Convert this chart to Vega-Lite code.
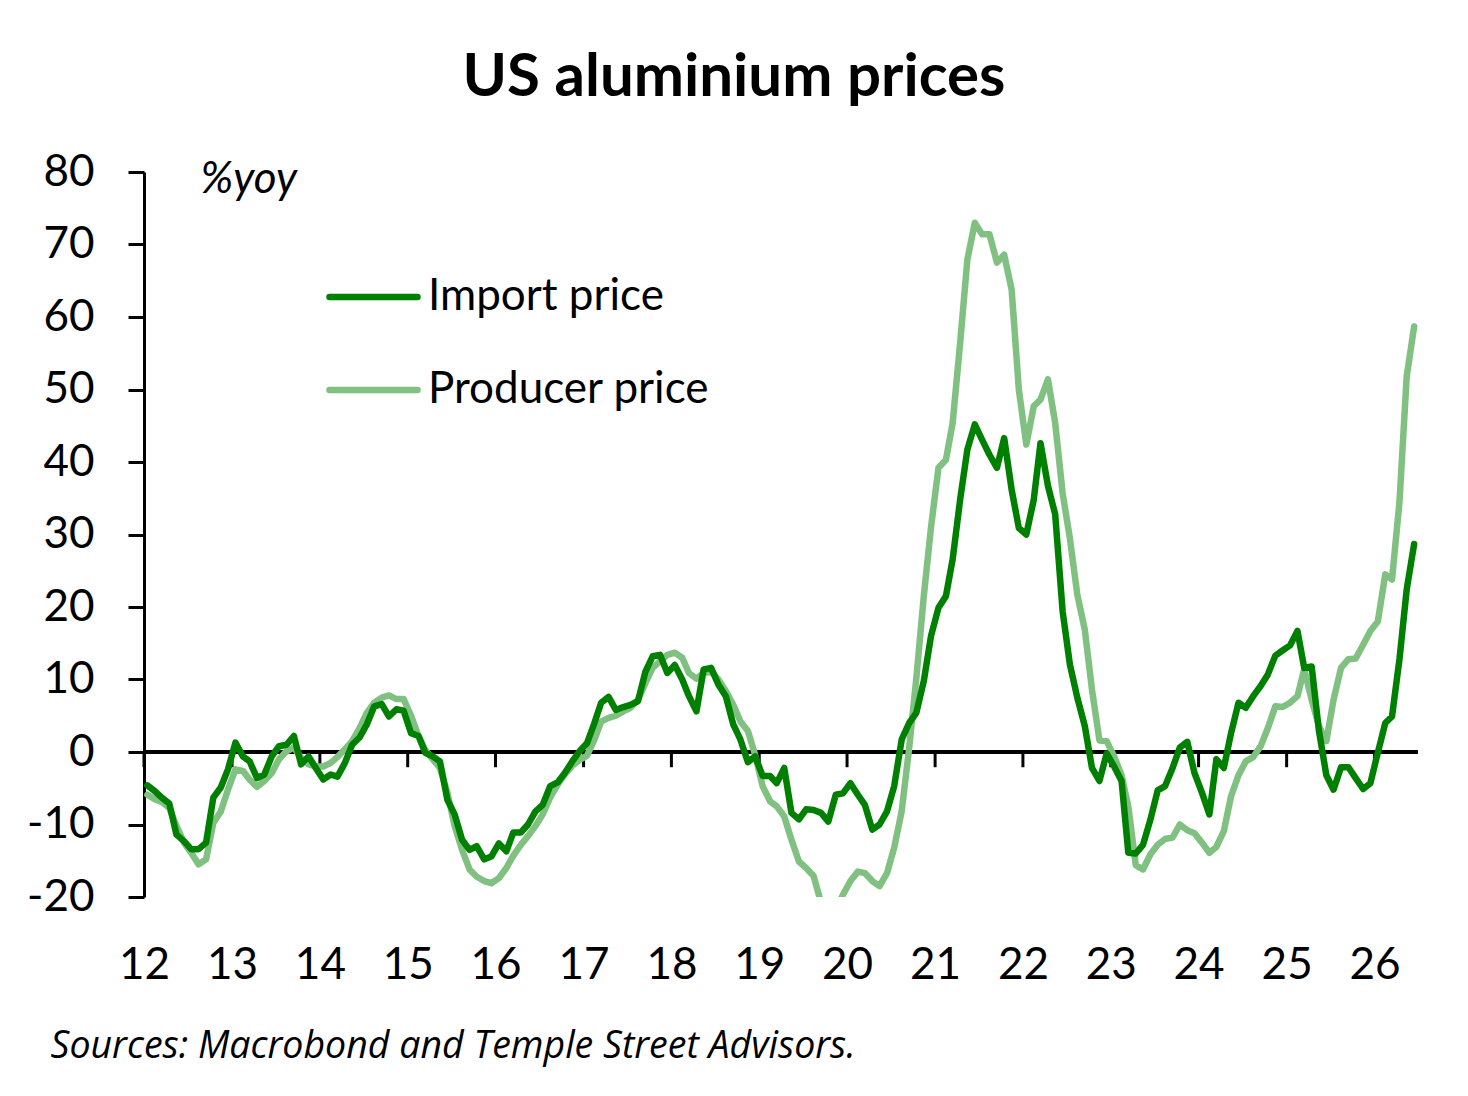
{
  "$schema": "https://vega.github.io/schema/vega-lite/v6.json",
  "width": 1274,
  "height": 725,
  "autosize": {"type": "none"},
  "padding": {"left": 144, "top": 172, "right": 50, "bottom": 199},
  "background": "white",
  "config": {"view": {"stroke": null}},
  "title": {
    "text": "US aluminium prices",
    "font": "Lato",
    "fontSize": 60,
    "fontWeight": "bold",
    "color": "black",
    "anchor": "middle",
    "baseline": "alphabetic",
    "dx": -47,
    "dy": 61,
    "offset": 55
  },
  "data": {
    "format": {"parse": {"date": "date"}},
    "values": [
      {"date": "2012-01-15", "imp": -4.6, "prod": -5.9},
      {"date": "2012-02-15", "imp": -5.4, "prod": -6.5},
      {"date": "2012-03-15", "imp": -6.3, "prod": -6.9},
      {"date": "2012-04-15", "imp": -7.1, "prod": -7.7},
      {"date": "2012-05-15", "imp": -11.4, "prod": -10.2},
      {"date": "2012-06-15", "imp": -12.3, "prod": -12.5},
      {"date": "2012-07-15", "imp": -13.4, "prod": -13.9},
      {"date": "2012-08-15", "imp": -13.4, "prod": -15.5},
      {"date": "2012-09-15", "imp": -12.5, "prod": -14.8},
      {"date": "2012-10-15", "imp": -6.3, "prod": -9.8},
      {"date": "2012-11-15", "imp": -4.9, "prod": -8.2},
      {"date": "2012-12-15", "imp": -2.4, "prod": -5.2},
      {"date": "2013-01-15", "imp": 1.3, "prod": -2.4},
      {"date": "2013-02-15", "imp": -0.6, "prod": -2.6},
      {"date": "2013-03-15", "imp": -1.3, "prod": -3.8},
      {"date": "2013-04-15", "imp": -3.6, "prod": -4.8},
      {"date": "2013-05-15", "imp": -3.1, "prod": -4.0},
      {"date": "2013-06-15", "imp": -0.6, "prod": -2.9},
      {"date": "2013-07-15", "imp": 0.8, "prod": -1.0},
      {"date": "2013-08-15", "imp": 1.0, "prod": 0.1},
      {"date": "2013-09-15", "imp": 2.2, "prod": 0.6},
      {"date": "2013-10-15", "imp": -1.7, "prod": -0.8},
      {"date": "2013-11-15", "imp": -0.6, "prod": -1.7},
      {"date": "2013-12-15", "imp": -2.2, "prod": -2.0},
      {"date": "2014-01-15", "imp": -3.8, "prod": -2.0},
      {"date": "2014-02-15", "imp": -3.1, "prod": -1.5},
      {"date": "2014-03-15", "imp": -3.4, "prod": -0.7},
      {"date": "2014-04-15", "imp": -1.5, "prod": 0.4},
      {"date": "2014-05-15", "imp": 1.0, "prod": 1.5},
      {"date": "2014-06-15", "imp": 2.0, "prod": 3.3},
      {"date": "2014-07-15", "imp": 3.8, "prod": 5.4},
      {"date": "2014-08-15", "imp": 6.3, "prod": 6.8},
      {"date": "2014-09-15", "imp": 6.6, "prod": 7.5},
      {"date": "2014-10-15", "imp": 4.9, "prod": 7.8},
      {"date": "2014-11-15", "imp": 5.9, "prod": 7.3},
      {"date": "2014-12-15", "imp": 5.7, "prod": 7.3},
      {"date": "2015-01-15", "imp": 2.6, "prod": 5.0},
      {"date": "2015-02-15", "imp": 2.2, "prod": 2.2},
      {"date": "2015-03-15", "imp": -0.1, "prod": 0.3},
      {"date": "2015-04-15", "imp": -0.6, "prod": -1.0},
      {"date": "2015-05-15", "imp": -1.3, "prod": -2.2},
      {"date": "2015-06-15", "imp": -6.6, "prod": -5.6},
      {"date": "2015-07-15", "imp": -8.6, "prod": -10.2},
      {"date": "2015-08-15", "imp": -12.1, "prod": -13.5},
      {"date": "2015-09-15", "imp": -13.5, "prod": -16.2},
      {"date": "2015-10-15", "imp": -13.0, "prod": -17.2},
      {"date": "2015-11-15", "imp": -14.8, "prod": -17.8},
      {"date": "2015-12-15", "imp": -14.4, "prod": -18.1},
      {"date": "2016-01-15", "imp": -12.6, "prod": -17.4},
      {"date": "2016-02-15", "imp": -13.7, "prod": -16.0},
      {"date": "2016-03-15", "imp": -11.1, "prod": -14.3},
      {"date": "2016-04-15", "imp": -11.1, "prod": -12.8},
      {"date": "2016-05-15", "imp": -10.0, "prod": -11.6},
      {"date": "2016-06-15", "imp": -8.2, "prod": -10.2},
      {"date": "2016-07-15", "imp": -7.3, "prod": -8.6},
      {"date": "2016-08-15", "imp": -4.7, "prod": -6.3},
      {"date": "2016-09-15", "imp": -4.2, "prod": -4.5},
      {"date": "2016-10-15", "imp": -2.9, "prod": -3.1},
      {"date": "2016-11-15", "imp": -1.3, "prod": -1.9},
      {"date": "2016-12-15", "imp": 0.1, "prod": -1.1},
      {"date": "2017-01-15", "imp": 1.2, "prod": -0.5},
      {"date": "2017-02-15", "imp": 4.0, "prod": 1.7},
      {"date": "2017-03-15", "imp": 6.8, "prod": 4.2},
      {"date": "2017-04-15", "imp": 7.6, "prod": 4.7},
      {"date": "2017-05-15", "imp": 5.8, "prod": 5.0},
      {"date": "2017-06-15", "imp": 6.2, "prod": 5.6},
      {"date": "2017-07-15", "imp": 6.5, "prod": 6.1},
      {"date": "2017-08-15", "imp": 7.0, "prod": 7.2},
      {"date": "2017-09-15", "imp": 11.1, "prod": 9.5},
      {"date": "2017-10-15", "imp": 13.2, "prod": 11.6},
      {"date": "2017-11-15", "imp": 13.4, "prod": 12.5},
      {"date": "2017-12-15", "imp": 10.9, "prod": 13.4},
      {"date": "2018-01-15", "imp": 12.0, "prod": 13.7},
      {"date": "2018-02-15", "imp": 10.0, "prod": 13.0},
      {"date": "2018-03-15", "imp": 7.7, "prod": 10.9},
      {"date": "2018-04-15", "imp": 5.6, "prod": 10.1},
      {"date": "2018-05-15", "imp": 11.4, "prod": 10.9},
      {"date": "2018-06-15", "imp": 11.6, "prod": 11.1},
      {"date": "2018-07-15", "imp": 9.3, "prod": 10.0},
      {"date": "2018-08-15", "imp": 7.7, "prod": 8.4},
      {"date": "2018-09-15", "imp": 3.8, "prod": 6.5},
      {"date": "2018-10-15", "imp": 1.7, "prod": 4.2},
      {"date": "2018-11-15", "imp": -1.4, "prod": 2.9},
      {"date": "2018-12-15", "imp": -0.6, "prod": -0.4},
      {"date": "2019-01-15", "imp": -3.3, "prod": -4.7},
      {"date": "2019-02-15", "imp": -3.3, "prod": -6.8},
      {"date": "2019-03-15", "imp": -4.3, "prod": -7.5},
      {"date": "2019-04-15", "imp": -2.2, "prod": -8.9},
      {"date": "2019-05-15", "imp": -8.4, "prod": -12.1},
      {"date": "2019-06-15", "imp": -9.3, "prod": -15.1},
      {"date": "2019-07-15", "imp": -7.9, "prod": -16.0},
      {"date": "2019-08-15", "imp": -8.0, "prod": -17.1},
      {"date": "2019-09-15", "imp": -8.4, "prod": -20.8},
      {"date": "2019-10-15", "imp": -9.6, "prod": -22.7},
      {"date": "2019-11-15", "imp": -5.9, "prod": -21.7},
      {"date": "2019-12-15", "imp": -5.7, "prod": -19.7},
      {"date": "2020-01-15", "imp": -4.3, "prod": -17.8},
      {"date": "2020-02-15", "imp": -5.9, "prod": -16.5},
      {"date": "2020-03-15", "imp": -7.3, "prod": -16.7},
      {"date": "2020-04-15", "imp": -10.7, "prod": -17.8},
      {"date": "2020-05-15", "imp": -10.0, "prod": -18.5},
      {"date": "2020-06-15", "imp": -8.2, "prod": -16.7},
      {"date": "2020-07-15", "imp": -4.7, "prod": -13.2},
      {"date": "2020-08-15", "imp": 1.7, "prod": -8.2},
      {"date": "2020-09-15", "imp": 4.0, "prod": 0.5},
      {"date": "2020-10-15", "imp": 5.4, "prod": 10.2},
      {"date": "2020-11-15", "imp": 9.8, "prod": 21.5},
      {"date": "2020-12-15", "imp": 16.0, "prod": 31.0},
      {"date": "2021-01-15", "imp": 19.9, "prod": 39.2},
      {"date": "2021-02-15", "imp": 21.5, "prod": 40.3},
      {"date": "2021-03-15", "imp": 26.6, "prod": 45.4},
      {"date": "2021-04-15", "imp": 34.8, "prod": 56.4},
      {"date": "2021-05-15", "imp": 41.7, "prod": 67.9},
      {"date": "2021-06-15", "imp": 45.2, "prod": 73.0},
      {"date": "2021-07-15", "imp": 43.1, "prod": 71.4},
      {"date": "2021-08-15", "imp": 41.0, "prod": 71.4},
      {"date": "2021-09-15", "imp": 39.2, "prod": 67.5},
      {"date": "2021-10-15", "imp": 43.3, "prod": 68.6},
      {"date": "2021-11-15", "imp": 36.2, "prod": 63.8},
      {"date": "2021-12-15", "imp": 30.9, "prod": 50.0},
      {"date": "2022-01-15", "imp": 30.0, "prod": 42.4},
      {"date": "2022-02-15", "imp": 34.8, "prod": 47.7},
      {"date": "2022-03-15", "imp": 42.6, "prod": 48.6},
      {"date": "2022-04-15", "imp": 36.7, "prod": 51.4},
      {"date": "2022-05-15", "imp": 32.8, "prod": 45.4},
      {"date": "2022-06-15", "imp": 19.4, "prod": 35.7},
      {"date": "2022-07-15", "imp": 12.1, "prod": 29.5},
      {"date": "2022-08-15", "imp": 7.5, "prod": 21.7},
      {"date": "2022-09-15", "imp": 3.6, "prod": 16.9},
      {"date": "2022-10-15", "imp": -2.2, "prod": 8.6},
      {"date": "2022-11-15", "imp": -4.0, "prod": 1.6},
      {"date": "2022-12-15", "imp": -0.2, "prod": 1.5},
      {"date": "2023-01-15", "imp": -2.0, "prod": -0.6},
      {"date": "2023-02-15", "imp": -4.0, "prod": -3.2},
      {"date": "2023-03-15", "imp": -13.9, "prod": -7.5},
      {"date": "2023-04-15", "imp": -14.0, "prod": -15.6},
      {"date": "2023-05-15", "imp": -12.8, "prod": -16.2},
      {"date": "2023-06-15", "imp": -9.3, "prod": -14.1},
      {"date": "2023-07-15", "imp": -5.3, "prod": -12.8},
      {"date": "2023-08-15", "imp": -4.7, "prod": -12.0},
      {"date": "2023-09-15", "imp": -2.2, "prod": -11.8},
      {"date": "2023-10-15", "imp": 0.6, "prod": -10.0},
      {"date": "2023-11-15", "imp": 1.4, "prod": -10.8},
      {"date": "2023-12-15", "imp": -2.9, "prod": -11.2},
      {"date": "2024-01-15", "imp": -5.6, "prod": -12.5},
      {"date": "2024-02-15", "imp": -8.6, "prod": -13.9},
      {"date": "2024-03-15", "imp": -1.0, "prod": -13.1},
      {"date": "2024-04-15", "imp": -2.2, "prod": -10.9},
      {"date": "2024-05-15", "imp": 2.6, "prod": -6.1},
      {"date": "2024-06-15", "imp": 6.8, "prod": -3.2},
      {"date": "2024-07-15", "imp": 6.1, "prod": -1.3},
      {"date": "2024-08-15", "imp": 7.7, "prod": -0.7},
      {"date": "2024-09-15", "imp": 9.1, "prod": 0.8},
      {"date": "2024-10-15", "imp": 10.7, "prod": 3.3},
      {"date": "2024-11-15", "imp": 13.3, "prod": 6.3},
      {"date": "2024-12-15", "imp": 14.0, "prod": 6.2},
      {"date": "2025-01-15", "imp": 14.7, "prod": 6.8},
      {"date": "2025-02-15", "imp": 16.7, "prod": 7.7},
      {"date": "2025-03-15", "imp": 11.6, "prod": 11.4},
      {"date": "2025-04-15", "imp": 11.8, "prod": 7.2},
      {"date": "2025-05-15", "imp": 3.0, "prod": 3.6},
      {"date": "2025-06-15", "imp": -3.2, "prod": 1.5},
      {"date": "2025-07-15", "imp": -5.2, "prod": 7.2},
      {"date": "2025-08-15", "imp": -2.1, "prod": 11.6},
      {"date": "2025-09-15", "imp": -2.1, "prod": 12.8},
      {"date": "2025-10-15", "imp": -3.6, "prod": 12.9},
      {"date": "2025-11-15", "imp": -5.1, "prod": 14.8},
      {"date": "2025-12-15", "imp": -4.3, "prod": 16.7},
      {"date": "2026-01-15", "imp": -0.1, "prod": 18.0},
      {"date": "2026-02-15", "imp": 4.0, "prod": 24.5},
      {"date": "2026-03-15", "imp": 4.9, "prod": 23.8},
      {"date": "2026-04-15", "imp": 12.8, "prod": 34.5},
      {"date": "2026-05-15", "imp": 22.4, "prod": 51.8},
      {"date": "2026-06-15", "imp": 28.7, "prod": 58.7}
    ]
  },
  "layer": [
    {
      "mark": {"type": "rule", "color": "black", "strokeWidth": 3},
      "encoding": {
        "y": {"datum": 0, "type": "quantitative", "title": "%yoy"}
      }
    },
    {
      "transform": [
        {"filter": "utcmonth(datum.date) == 0"},
        {"timeUnit": "utcyear", "field": "date", "as": "yr"}
      ],
      "mark": {"type": "rule", "color": "black", "strokeWidth": 3},
      "encoding": {
        "x": {"field": "yr", "type": "temporal", "title": "Sources: Macrobond and Temple Street Advisors."},
        "y": {"datum": 0, "type": "quantitative", "title": "%yoy"},
        "y2": {"datum": -2.1}
      }
    },
    {
      "mark": {"type": "line", "strokeWidth": 6.5, "clip": true, "strokeJoin": "round", "strokeCap": "round"},
      "encoding": {
        "x": {
          "field": "date",
          "type": "temporal",
          "title": "Sources: Macrobond and Temple Street Advisors.",
          "scale": {
            "type": "utc",
            "domain": [
              {"year": 2012, "month": 1, "date": 1, "utc": true},
              {"year": 2026, "month": 7, "date": 1, "utc": true}
            ]
          },
          "axis": {
            "orient": "bottom",
            "domain": false,
            "ticks": false,
            "tickSize": 0,
            "grid": false,
            "values": [
              {"year": 2012, "utc": true}, {"year": 2013, "utc": true}, {"year": 2014, "utc": true},
              {"year": 2015, "utc": true}, {"year": 2016, "utc": true}, {"year": 2017, "utc": true},
              {"year": 2018, "utc": true}, {"year": 2019, "utc": true}, {"year": 2020, "utc": true},
              {"year": 2021, "utc": true}, {"year": 2022, "utc": true}, {"year": 2023, "utc": true},
              {"year": 2024, "utc": true}, {"year": 2025, "utc": true}, {"year": 2026, "utc": true}
            ],
            "format": "%y",
            "labelFont": "Lato",
            "labelFontSize": 44,
            "labelColor": "black",
            "labelBaseline": "alphabetic",
            "labelAlign": "center",
            "labelPadding": 81,
            "labelDx": 3,
            "labelFlush": false,
            "labelOverlap": false,
            "titleFont": "Open Sans",
            "titleFontSize": 37.5,
            "titleFontStyle": "italic",
            "titleFontWeight": "normal",
            "titleColor": "black",
            "titleAngle": 0,
            "titleAlign": "left",
            "titleBaseline": "alphabetic",
            "titleX": -94,
            "titleY": 160
          }
        },
        "y": {
          "field": "prod",
          "type": "quantitative",
          "title": "%yoy",
          "scale": {"domain": [-20, 80], "nice": false, "zero": false},
          "axis": {
            "domain": true,
            "domainColor": "black",
            "domainWidth": 3,
            "ticks": true,
            "tickColor": "black",
            "tickWidth": 3,
            "tickSize": 16,
            "grid": false,
            "values": [-20, -10, 0, 10, 20, 30, 40, 50, 60, 70, 80],
            "labelExpr": "'' + datum.value",
            "labelFont": "Lato",
            "labelFontSize": 44,
            "labelColor": "black",
            "labelPadding": 34,
            "labelFlush": false,
            "labelOverlap": false,
            "titleFont": "Lato",
            "titleFontSize": 44,
            "titleFontStyle": "italic",
            "titleFontWeight": "normal",
            "titleColor": "black",
            "titleAngle": 0,
            "titleAlign": "left",
            "titleBaseline": "alphabetic",
            "titleX": 56,
            "titleY": 20
          }
        },
        "color": {
          "datum": "Producer price",
          "type": "nominal",
          "scale": {
            "domain": ["Import price", "Producer price"],
            "range": ["#008000", "#80c080"]
          },
          "legend": {
            "orient": "none",
            "legendX": 182,
            "legendY": 103,
            "title": null,
            "direction": "vertical",
            "padding": 0,
            "symbolType": "stroke",
            "symbolSize": 7744,
            "symbolStrokeWidth": 6.5,
            "clipHeight": 44,
            "rowPadding": 49,
            "labelOffset": 7,
            "labelLimit": 500,
            "labelFont": "Lato",
            "labelFontSize": 44,
            "labelColor": "black",
            "encode": {"symbols": {"update": {"strokeCap": {"value": "round"}}}}
          }
        }
      }
    },
    {
      "mark": {"type": "line", "strokeWidth": 6.5, "clip": true, "strokeJoin": "round", "strokeCap": "round"},
      "encoding": {
        "x": {"field": "date", "type": "temporal", "title": "Sources: Macrobond and Temple Street Advisors."},
        "y": {"field": "imp", "type": "quantitative", "title": "%yoy"},
        "color": {"datum": "Import price", "type": "nominal"}
      }
    }
  ]
}
